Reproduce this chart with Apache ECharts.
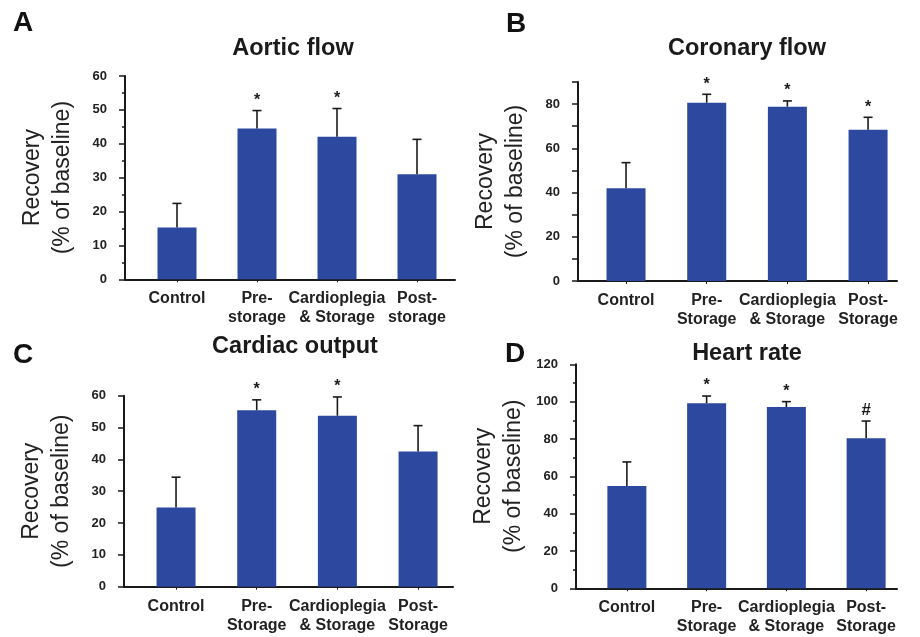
<!DOCTYPE html>
<html><head><meta charset="utf-8">
<script src="https://cdn.jsdelivr.net/npm/echarts@6/dist/echarts.min.js"></script>
<style>html,body{margin:0;padding:0;background:#fff}#c{width:920px;height:637px}</style>
</head><body><div id="c"></div>
<script>
// ---------- data ----------
const catsA = ['Control', 'Pre-\nstorage', 'Cardioplegia\n& Storage', 'Post-\nstorage'];
const catsB = ['Control', 'Pre-\nStorage', 'Cardioplegia\n& Storage', 'Post-\nStorage'];
const catsC = ['Control', 'Pre-\nStorage', 'Cardioplegia\n& Storage', 'Post-\nStorage'];
const catsD = ['Control', 'Pre-\nStorage', 'Cardioplegia\n& Storage', 'Post-\nStorage'];

const meanA = [15.3, 44.5, 42.1, 31.0];
const semA  = [7.1, 5.3, 8.3, 10.3];
const markA = ['', '*', '*', ''];

const meanB = [41.9, 80.6, 78.8, 68.4];
const semB  = [11.6, 3.8, 2.6, 5.6];
const markB = ['', '*', '*', '*'];

const meanC = [24.9, 55.4, 53.7, 42.5];
const semC  = [9.5, 3.3, 5.9, 8.1];
const markC = ['', '*', '*', ''];

const meanD = [54.8, 99.1, 97.1, 80.4];
const semD  = [12.9, 3.9, 2.9, 9.2];
const markD = ['', '*', '*', '#'];

const titles  = ['Aortic flow', 'Coronary flow', 'Cardiac output', 'Heart rate'];
const letters = ['A', 'B', 'C', 'D'];
const yName = 'Recovery\n(% of baseline)';

const yMaxA = 60,  yStepA = 10;
const yMaxB = 90,  yStepB = 10, yLabelEveryB = 20;
const yMaxC = 60,  yStepC = 10;
const yMaxD = 120, yStepD = 20;

// ---------- layout / style ----------
const FONT = 'Liberation Sans, Arial, Helvetica, sans-serif';
const BAR = '#2d489f';
const INK = '#1a1a1a';

const panels = [
  {cats: catsA, mean: meanA, sem: semA, mark: markA, max: yMaxA, step: yStepA, minor: true, fmt: null,
   axisX: 125, top: 76, bottom: 279.3, lineEnd: 455, barLeft: 137, barW: 320,
   title: [293, 49], letter: [23, 23]},
  {cats: catsB, mean: meanB, sem: semB, mark: markB, max: yMaxB, step: yStepB, minor: false,
   fmt: v => (v % yLabelEveryB === 0 ? String(v) : ''),
   axisX: 578, top: 81.9, bottom: 281, lineEnd: 897, barLeft: 585.7, barW: 322.7,
   title: [747, 49], letter: [516, 24]},
  {cats: catsC, mean: meanC, sem: semC, mark: markC, max: yMaxC, step: yStepC, minor: false, fmt: null,
   axisX: 124, top: 395.7, bottom: 586.7, lineEnd: 453, barLeft: 135.7, barW: 322.7,
   title: [295, 347], letter: [23, 355]},
  {cats: catsD, mean: meanD, sem: semD, mark: markD, max: yMaxD, step: yStepD, minor: true, fmt: null,
   axisX: 576, top: 364.3, bottom: 588.3, lineEnd: 897, barLeft: 587, barW: 319,
   title: [747, 354], letter: [515, 354]}
];

const grid = [], xAxis = [], yAxis = [], series = [], graphic = [];

panels.forEach((p, k) => {
  const h = p.bottom - p.top;
  grid.push({left: p.axisX, top: p.top, width: p.lineEnd - p.axisX, height: h, outerBoundsMode: 'none', containLabel: false});
  grid.push({left: p.barLeft, top: p.top, width: p.barW, height: h, outerBoundsMode: 'none', containLabel: false});
  const gF = 2 * k, gB = 2 * k + 1;

  xAxis.push({
    gridIndex: gF, type: 'value', min: 0, max: 1,
    axisLine: {show: true, onZero: false, lineStyle: {color: INK, width: 2}},
    axisTick: {show: false}, axisLabel: {show: false}, splitLine: {show: false}
  });
  yAxis.push({
    gridIndex: gF, type: 'value', min: 0, max: p.max, interval: p.step,
    axisLine: {show: true, onZero: false, lineStyle: {color: INK, width: 2}},
    axisTick: {show: true, inside: false, length: 6, lineStyle: {color: INK, width: 1.5}},
    minorTick: {show: p.minor, splitNumber: 2, length: 3, lineStyle: {color: INK, width: 1.5}},
    axisLabel: {show: true, fontFamily: FONT, fontWeight: 'bold', fontSize: 13, color: '#222', margin: 18,
                formatter: p.fmt || (v => String(v))},
    splitLine: {show: false}, minorSplitLine: {show: false},
    name: yName, nameLocation: 'middle', nameRotate: 90, nameGap: 47,
    nameTextStyle: {fontFamily: FONT, fontSize: 23, lineHeight: 30, color: '#222', align: 'center'}
  });

  xAxis.push({
    gridIndex: gB, type: 'category', data: p.cats, boundaryGap: true,
    axisLine: {show: false},
    axisTick: {show: true, alignWithLabel: true, length: 3, lineStyle: {color: INK, width: 1}},
    axisLabel: {interval: 0, fontFamily: FONT, fontWeight: 'bold', fontSize: 16, lineHeight: 19, color: '#222', margin: 10}
  });
  yAxis.push({gridIndex: gB, type: 'value', min: 0, max: p.max, show: false, splitLine: {show: false}});

  series.push({
    type: 'bar', xAxisIndex: gB, yAxisIndex: gB, data: p.mean, barWidth: 39,
    itemStyle: {color: BAR}, silent: true, animation: false, z: 2
  });
  series.push({
    type: 'custom', xAxisIndex: gB, yAxisIndex: gB, animation: false, silent: true, z: 3,
    data: p.mean.map((m, i) => [i, m, m + p.sem[i]]),
    encode: {x: 0, y: [1, 2]},
    renderItem: (params, api) => {
      const i = api.value(0);
      const lo = api.coord([i, api.value(1)]);
      const hi = api.coord([i, api.value(2)]);
      const mk = p.mark[params.dataIndex];
      const children = [
        {type: 'line', shape: {x1: lo[0], y1: lo[1], x2: hi[0], y2: hi[1]}, style: {stroke: INK, lineWidth: 1.6}},
        {type: 'line', shape: {x1: hi[0] - 4.5, y1: hi[1], x2: hi[0] + 4.5, y2: hi[1]}, style: {stroke: INK, lineWidth: 1.6}}
      ];
      if (mk) {
        children.push({
          type: 'text', x: hi[0], y: hi[1] - (mk === '*' ? 10 : 11),
          style: {text: mk, align: 'center', verticalAlign: 'middle', fill: INK,
                  font: (mk === '*' ? 'bold 16px ' : 'bold 17px ') + FONT}
        });
      }
      return {type: 'group', children};
    }
  });

  graphic.push({type: 'text', x: p.title[0], y: p.title[1], silent: true,
    style: {text: titles[k], align: 'center', verticalAlign: 'middle', fill: '#1a1a1a', font: 'bold 23.5px ' + FONT}});
  graphic.push({type: 'text', x: p.letter[0], y: p.letter[1], silent: true,
    style: {text: letters[k], align: 'center', verticalAlign: 'middle', fill: '#111', font: 'bold 28px ' + FONT}});
});

const chart = echarts.init(document.getElementById('c'), null, {renderer: 'canvas'});
chart.setOption({animation: false, backgroundColor: '#fff', grid, xAxis, yAxis, series, graphic});
</script>
</body></html>
